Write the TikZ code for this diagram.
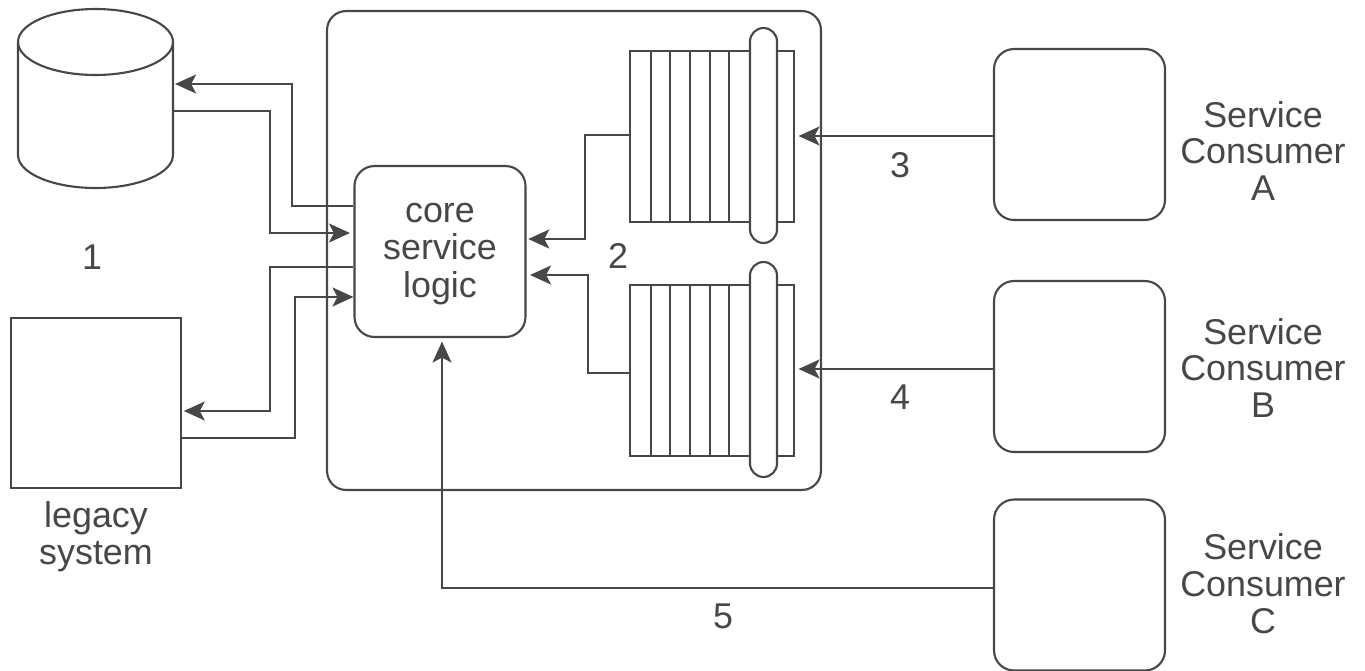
\documentclass[tikz,border=0pt]{standalone}
\usepackage{fontspec}
\setmainfont{Liberation Sans}
\usepackage{xcolor}
\usetikzlibrary{arrows.meta}

\colorlet{ink}{black!72}
\tikzset{
    box/.style={draw=ink, fill=white, line width=1.2pt, inner sep=0pt},
    sq/.style={box, rounded corners=0.4cm, minimum width=3.42cm, minimum height=3.42cm},
    flow/.style={draw=ink, line width=1.2pt, -{Stealth[length=0.42cm, width=0.38cm, inset=0.1cm]}},
    plain/.style={draw=ink, line width=1.2pt},
    lbl/.style={text=ink, align=center, font=\fontsize{20.4}{21}\selectfont}
}

\begin{document}
\begin{tikzpicture}[x=0.02cm, y=-0.02cm]
    \useasboundingbox (0,0) rectangle (1365,670);

    % outer service
    \node[box, rounded corners=0.38cm, minimum width=9.88cm, minimum height=9.58cm] (svc) at (574,250.5) {};

    % database and legacy system
    \node[inner sep=0pt, minimum width=3.1cm, minimum height=3.58cm] (db) at (95.5,98.5) {};
    \draw[plain] (18,42) -- (18,155) arc[start angle=180, end angle=360, x radius=1.55cm, y radius=0.66cm] -- (173,42);
    \draw[plain] (95.5,42) ellipse[x radius=1.55cm, y radius=0.66cm];
    \node[box, minimum width=3.4cm, minimum height=3.4cm] (legacy) at (96,403) {};
    \node[lbl] (legacytxt) at (96,537) {legacy\\system};

    % core
    \node[sq] (core) at (440,251.5) {};
    \node[lbl, font=\fontsize{20.4}{21.4}\selectfont] (coretxt) at (440,254) {core\\service\\logic};

    % queues
    \foreach \name/\yc in {qa/136.5, qb/370.5} {
        \node[box, minimum width=3.28cm, minimum height=3.42cm] (\name) at (712,\yc) {};
        \foreach \x in {651,670,690,710,729}
            \draw[plain] (\x,\yc-85.5) -- (\x,\yc+85.5);
        \node[box, rounded corners=0.27cm, minimum width=0.54cm, minimum height=4.3cm] (\name cap) at (763.5,\yc-1) {};
    }

    % consumers
    \node[sq] (ca) at (1079.5,134.5) {};
    \node[sq] (cb) at (1079.5,366.5) {};
    \node[sq] (cc) at (1079.5,585) {};
    \node[lbl] (catxt) at (1263,151) {Service\\Consumer\\A};
    \node[lbl] (cbtxt) at (1263,368) {Service\\Consumer\\B};
    \node[lbl] (cctxt) at (1263,584) {Service\\Consumer\\C};

    % links to the back ends
    \draw[flow] (core.west |- 0,206) -- (292,206) |- ([xshift=1pt]db.east |- 0,84);
    \draw[flow] (db.east |- 0,111) -- (270,111) |- ([xshift=-2pt]core.west |- 0,233);
    \draw[flow] (core.west |- 0,267) -- (270,267) |- ([xshift=1pt]legacy.east |- 0,411);
    \draw[flow] (legacy.east |- 0,438) -- (295,438) |- (core.west |- 0,297);

    % queues to core
    \draw[flow] (qa.west |- 0,135) -- (585,135) |- ([xshift=1pt]core.east |- 0,239);
    \draw[flow] (qb.west |- 0,373) -- (588,373) |- ([xshift=2pt]core.east |- 0,275);

    % consumers to queues
    \draw[flow] (ca.west |- 0,136) -- ([xshift=2pt]qa.east |- 0,136);
    \draw[flow] (cb.west |- 0,369) -- ([xshift=2pt]qb.east |- 0,369);
    \draw[flow] (cc.west |- 0,588) -- (442,588) -- ([yshift=-2pt]core.south -| 442,0);

    % numbers
    \node[lbl] (n1) at (92,257) {1};
    \node[lbl] (n2) at (618,256) {2};
    \node[lbl] (n3) at (900,165) {3};
    \node[lbl] (n4) at (900,397) {4};
    \node[lbl] (n5) at (723,616) {5};
\end{tikzpicture}
\end{document}
